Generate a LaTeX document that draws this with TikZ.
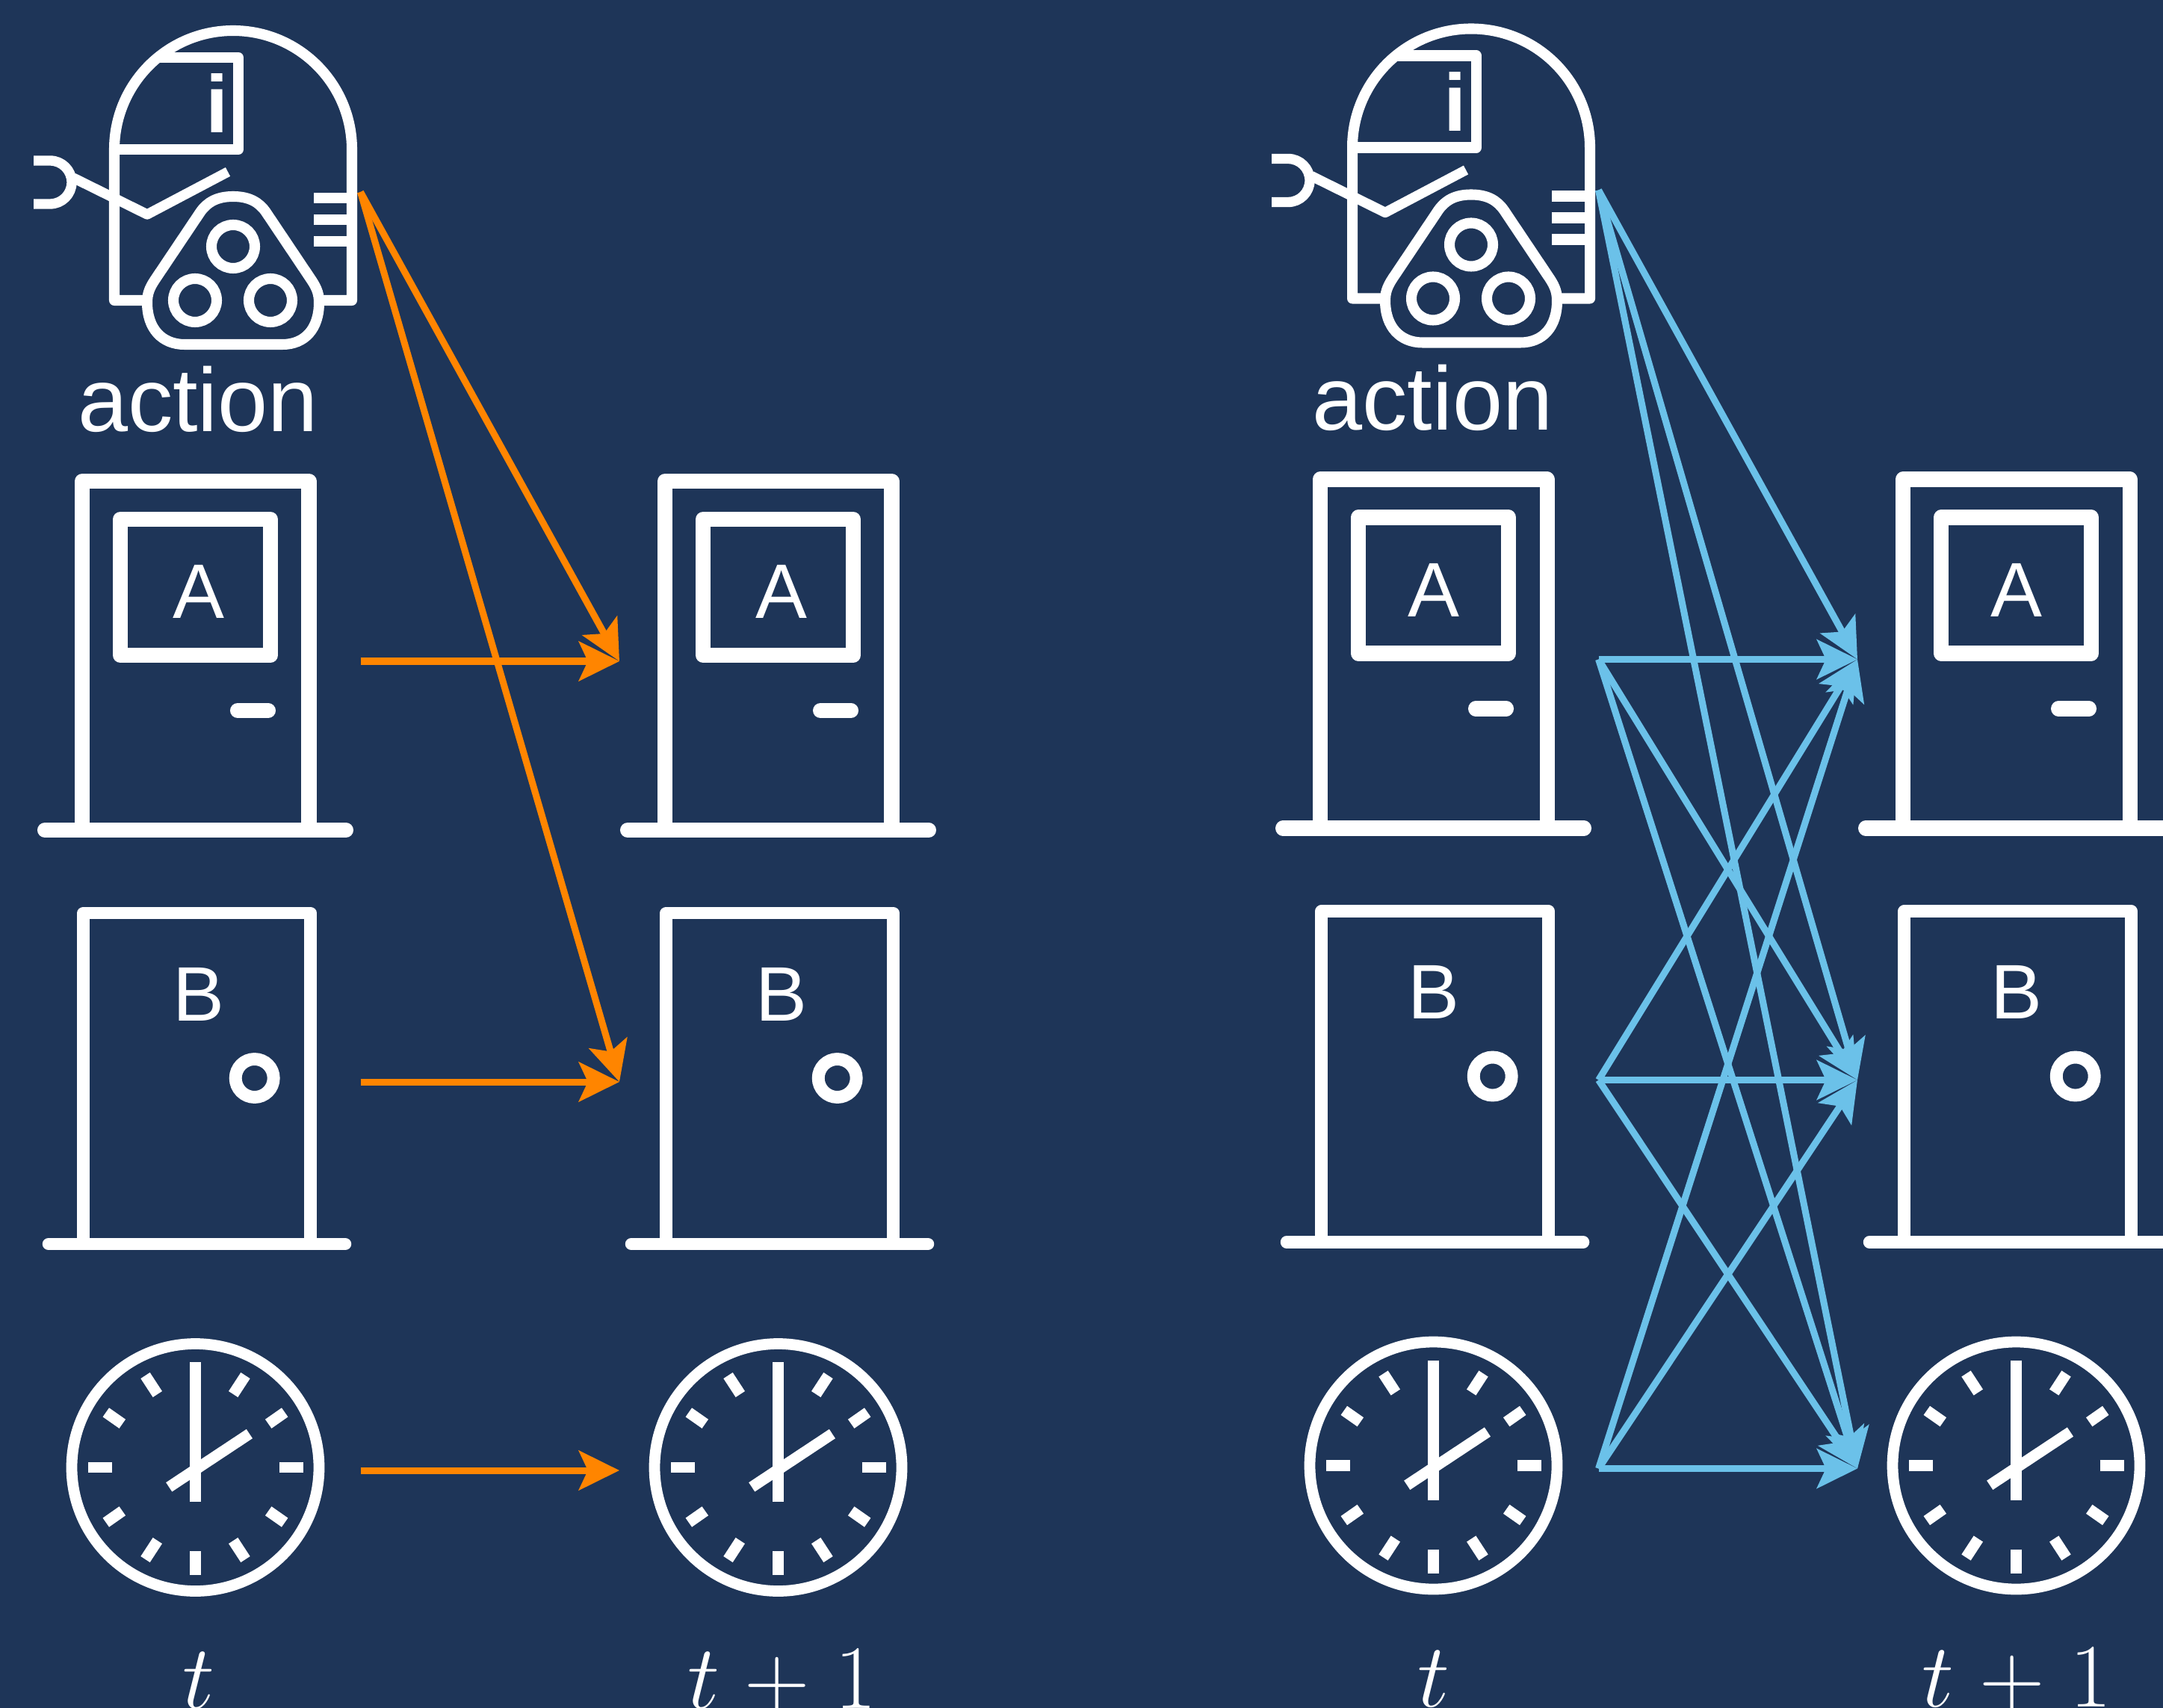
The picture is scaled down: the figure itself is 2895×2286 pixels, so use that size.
\documentclass[tikz,border=0pt]{standalone}
\usepackage{fix-cm}
\usepackage{fontspec}
\newfontfamily\labelfont{Liberation Sans}
\usetikzlibrary{arrows.meta}
\definecolor{slateblue}{HTML}{1E3558}
\definecolor{fixorange}{HTML}{FF8500}
\definecolor{fanblue}{HTML}{6BC1E9}
\tikzset{
  icontext/.style={text=white, inner sep=0pt, anchor=base},
  transition/.style={line width=2.56pt, -{Stealth[length=15.4pt, width=15pt, inset=3.4pt]}},
  robot/.pic={
    % body with dome
    \draw[white, line width=4pt, line join=round] (153,402) -- (153,200) arc[start angle=180, end angle=360, radius=159] -- (471,402) -- cycle;
    % panel on the head
    \draw[white, line width=4pt, line join=round] (213,77) -- (319,77) -- (319,200) -- (153,200);
    \node[icontext, font=\labelfont\bfseries\fontsize{31}{36}\selectfont] (-info) at (290.5,178) {i};
    % arm
    \draw[white, line width=3.8pt, line join=round] (45,215) -- (67,215) arc[start angle=270, end angle=450, radius=29] -- (45,273);
    \draw[white, line width=3.8pt, line join=round] (98,238) -- (197,287) -- (305,230);
    % vents
    \foreach \ventY in {265,294,323}
      \draw[white, line width=4pt] (420,\ventY) -- (471,\ventY);
    % wheel housing
    \draw[white, fill=slateblue, line width=4pt] (312,263) .. controls (290,263) and (277,271) .. (268,284) -- (207,375) .. controls (199,387) and (197,395) .. (197,405) .. controls (197,440) and (217,461) .. (247,461) -- (378,461) .. controls (408,461) and (427,440) .. (427,405) .. controls (427,395) and (425,387) .. (417,375) -- (356,284) .. controls (347,271) and (334,263) .. (312,263) -- cycle;
    \foreach \wheelX/\wheelY in {312/330, 261/402, 362/402}
      \draw[white, line width=4pt] (\wheelX,\wheelY) circle[radius=29];
    \node[icontext, font=\labelfont\fontsize{34.3}{40}\selectfont] (-label) at (265+\panelText,578) {action};
  },
  doorA/.pic={
    \draw[white, line width=5.7pt, line join=round] (110,1111) -- (110,644) -- (413.5,644) -- (413.5,1111);
    \draw[white, line width=5.7pt, line cap=round] (60,1111) -- (463,1111);
    \draw[white, line width=5.7pt, line join=round] (161,695) rectangle (362,877);
    \draw[white, line width=5.7pt, line cap=round] (318,951) -- (359,951);
    \node[icontext, font=\labelfont\fontsize{29.4}{36}\selectfont] (-label) at (266+\panelText,828) {A};
  },
  doorB/.pic={
    \draw[white, line width=4.7pt, line join=round] (111.7,1665) -- (111.7,1222) -- (415.5,1222) -- (415.5,1665);
    \draw[white, line width=4.7pt, line cap=round] (65,1665) -- (462,1665);
    \draw[white, line width=4.8pt] (340.7,1443) circle[radius=25.5];
    \node[icontext, font=\labelfont\fontsize{29.4}{36}\selectfont] (-label) at (266+\panelText,1366) {B};
  },
  clockface/.pic={
    \draw[white, line width=4.2pt] (0,0) circle[radius=165.5];
    % the minor ticks lean a little off the radius
    \foreach \signX in {1,-1}
      \foreach \signY in {1,-1} {
        \draw[white, line width=4.2pt] (\signX*50.7,\signY*98) -- (\signX*67,\signY*123);
        \draw[white, line width=4.2pt] (\signX*97.7,\signY*58.3) -- (\signX*119.7,\signY*73.7);
      }
    \foreach \tickA in {0,90,180}
      \draw[white, line width=4.2pt] (\tickA:112) -- (\tickA:144);
    % hands
    \draw[white, line width=4.2pt] (0,-141) -- (0,46);
    \draw[white, line width=4.2pt] (-35.3,26.3) -- (72.4,-45);
  },
}
\begin{document}
\begin{tikzpicture}[x=0.01cm, y=-0.01cm]
  \useasboundingbox (0,0) rectangle (2895,2286);
  \fill[slateblue] (0,0) rectangle (2895,2286);
  % both panels carry the same icons
  \foreach \panel/\panelX/\panelY/\panelText in {L/0/0/0, R/1657/-2.5/-4.5} {
    \begin{scope}[shift={(\panelX,\panelY)}]
      \pic (\panel robot) at (0,0) {robot};
      \pic (\panel doorAnow) at (0,0) {doorA};
      \pic (\panel doorAnext) at (780,0) {doorA};
      \pic (\panel doorBnow) at (0,0) {doorB};
      \pic (\panel doorBnext) at (780,0) {doorB};
      \pic (\panel clocknow) at (261.5,1964) {clockface};
      \pic (\panel clocknext) at (1041.5,1964) {clockface};
      \node[icontext, font=\fontsize{34.5}{40}\selectfont] (\panel now) at (266+\panelText,2286.5) {$t$};
      \node[icontext, font=\fontsize{34.5}{40}\selectfont] (\panel next) at (1047+\panelText,2286.5) {$t\mathrel{+}1$};
      % arrow ends
      \coordinate (\panel out) at (482.5,257);
      \coordinate (\panel outA) at (482.5,885);
      \coordinate (\panel outB) at (482.5,1448);
      \coordinate (\panel outC) at (482.5,1968);
      \coordinate (\panel inA) at (829,885);
      \coordinate (\panel inB) at (829,1448);
      \coordinate (\panel inC) at (829,1968);
    \end{scope}
  }
  % left: each variable only depends on itself and the action
  \draw[transition, fixorange] (Lout) -- (LinA);
  \draw[transition, fixorange] (Lout) -- (LinB);
  \draw[transition, fixorange] (LoutA) -- (LinA);
  \draw[transition, fixorange] (LoutB) -- (LinB);
  \draw[transition, fixorange] (LoutC) -- (LinC);
  % right: everything feeds everything
  \foreach \from in {out,outA,outB,outC}
    \foreach \to in {inA,inB,inC}
      \draw[transition, fanblue] (R\from) -- (R\to);
\end{tikzpicture}
\end{document}
